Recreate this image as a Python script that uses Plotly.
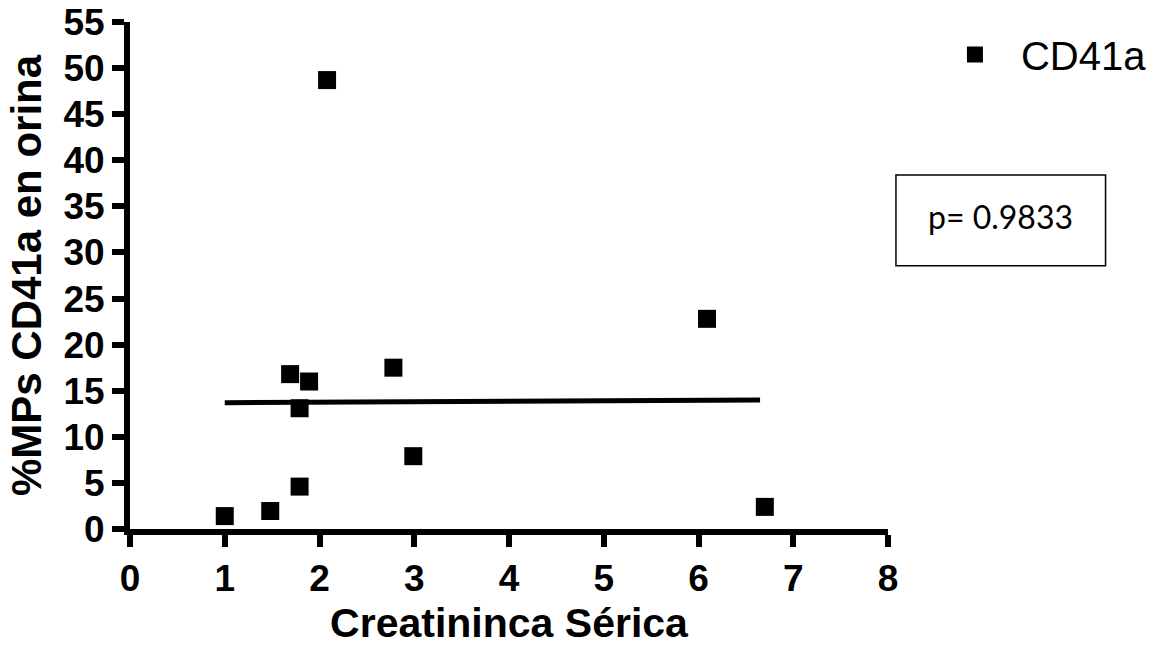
import plotly.graph_objects as go

# Data
creatinina = [1.0, 1.48, 1.69, 1.89, 1.79, 1.79, 2.08, 2.78, 2.99, 6.09, 6.7]
cd41a_pct = [1.4, 1.95, 16.8, 16.0, 13.1, 4.6, 48.7, 17.5, 7.9, 22.8, 2.4]
fit_x = [1.0, 6.65]
fit_y = [13.7, 14.0]
x_ticks = [0, 1, 2, 3, 4, 5, 6, 7, 8]
y_ticks = [0, 5, 10, 15, 20, 25, 30, 35, 40, 45, 50, 55]
series_name = "CD41a"
p_text = "p= 0.9833"
x_title = "Creatininca Sérica"
y_title = "%MPs CD41a en orina"

FONT = "Liberation Sans, Arial, sans-serif"

fig = go.Figure()
fig.add_trace(go.Scatter(
    x=fit_x, y=fit_y, mode="lines",
    line=dict(color="black", width=5),
    showlegend=False, hoverinfo="skip",
))
fig.add_trace(go.Scatter(
    x=creatinina, y=cd41a_pct, mode="markers", name=series_name,
    marker=dict(symbol="square", size=18, color="black", line=dict(width=0)),
    cliponaxis=False,
))

axis_common = dict(
    showline=True, linecolor="black", linewidth=6,
    ticks="outside", ticklen=12, tickwidth=6, tickcolor="black",
    showgrid=False, zeroline=False, automargin=False,
    ticklabeloverflow="allow",
    tickfont=dict(family=FONT, size=37, color="black", weight="bold"),
)

fig.update_xaxes(
    range=[0, 8], tickmode="array", tickvals=x_ticks,
    title=dict(text=x_title, font=dict(family=FONT, size=41, color="black", weight="bold"), standoff=12),
    **axis_common,
)
fig.update_yaxes(
    range=[0, 55], tickmode="array", tickvals=y_ticks,
    title=dict(text=y_title, font=dict(family=FONT, size=42, color="black", weight="bold"), standoff=11),
    **axis_common,
)

fig.add_shape(
    type="rect", xref="paper", yref="paper",
    x0=1.0105, x1=1.287, y0=0.519, y1=0.698,
    line=dict(color="black", width=1.5), fillcolor="white",
)
fig.add_annotation(
    text=p_text, xref="paper", yref="paper", x=1.149, y=0.617,
    showarrow=False, font=dict(family="Lato, Open Sans, sans-serif", size=32, color="black"),
    xanchor="center", yanchor="middle",
)

fig.update_layout(
    width=1164, height=651,
    margin=dict(l=130, r=274, t=22, b=122),
    plot_bgcolor="white", paper_bgcolor="white",
    showlegend=True,
    legend=dict(
        x=1.054, y=1.0, xanchor="left", yanchor="top",
        font=dict(family=FONT, size=40, color="black"),
        bgcolor="rgba(0,0,0,0)", itemsizing="trace", itemwidth=82,
    ),
)

# Remove the default 8px page margin so the figure sits at the window's top-left corner.
fig.write_html(
    "out.html",
    config={"displayModeBar": False},
    post_script="document.body.style.margin='0px';",
)
